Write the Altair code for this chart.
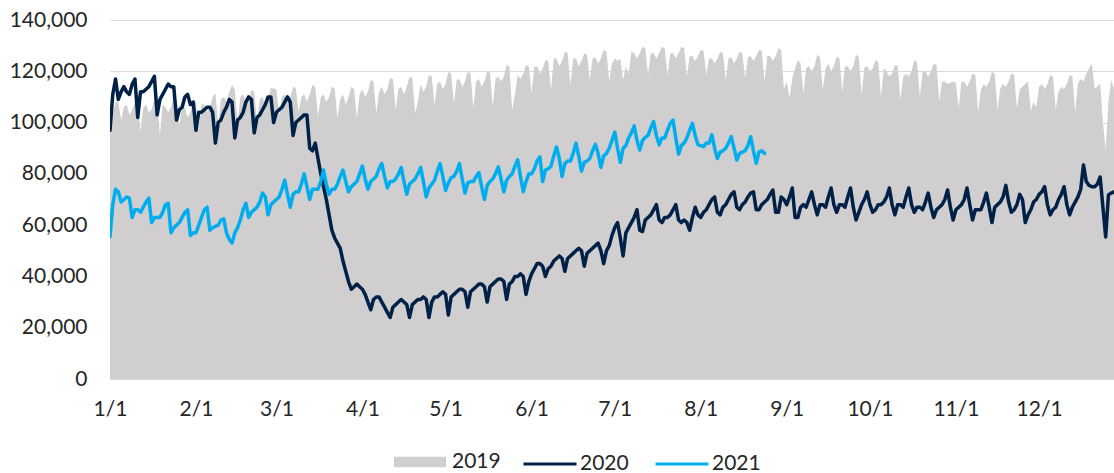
import json

import altair as alt
import pandas as pd

# Daily counts, one list per year, starting on 1 January.
VALUES_2019 = [
    98000, 103000, 108000, 108000, 101000,
    106000, 107000, 103000, 105000, 108000, 108000, 96500,
    106000, 107000, 104000, 105000, 109000, 108000, 95200,
    107000, 106000, 104000, 106000, 110000, 109000, 99000,
    106000, 106000, 102000, 104000, 109000, 108000, 97000,
    107000, 107000, 104000, 106000, 110000, 111400, 99000,
    109000, 110000, 108000, 112000, 114600, 113000, 100000,
    110000, 111000, 108000, 109000, 112700, 112000, 100000,
    109000, 110000, 107000, 109000, 113500, 113000, 103000,
    110000, 111000, 108000, 110000, 114000, 113500, 104200,
    110000, 111000, 108000, 111000, 114700, 114000, 102300,
    110000, 111000, 108000, 110000, 114000, 113500, 101700,
    109000, 111000, 107000, 110000, 114000, 113000, 101700,
    111000, 113000, 110000, 112000, 116600, 116000, 103600,
    112000, 114000, 111000, 113000, 117400, 117000, 104900,
    113000, 114000, 111000, 114000, 117900, 117500, 103600,
    108000, 115000, 112000, 114000, 118600, 118000, 106900,
    115000, 116000, 113000, 115000, 119800, 119000, 107500,
    116600, 117000, 114000, 116000, 119800, 119000, 105600,
    116000, 117000, 114000, 116000, 119800, 119500, 106200,
    117000, 118000, 116000, 118000, 122500, 122000, 104900,
    111000, 118600, 117000, 119000, 122500, 122000, 111400,
    121800, 122000, 119000, 121000, 124400, 124000, 112700,
    125000, 125000, 122000, 124000, 127600, 127000, 114700,
    125000, 125000, 122000, 124000, 127000, 126500, 116600,
    125000, 125500, 123000, 125000, 128300, 127500, 116000,
    123000, 125000, 124000, 125000, 116600, 122000, 119000,
    127600, 127000, 125000, 127000, 129600, 129000, 118600,
    127000, 127000, 125000, 127000, 129600, 129000, 118600,
    127000, 127000, 125000, 127000, 129600, 129000, 117900,
    126000, 126000, 124000, 126000, 128300, 128000, 118600,
    125000, 125000, 123000, 125000, 127600, 127000, 116600,
    125000, 125500, 123000, 125000, 127600, 127000, 117300,
    125500, 126000, 124000, 126000, 128300, 128000, 116000,
    126000, 126000, 124000, 126000, 129000, 128300, 113000,
    116000, 109500, 117300, 121000, 124400, 123000, 111400,
    121200, 122000, 120000, 122000, 126400, 125500, 112700,
    121000, 123000, 120000, 122000, 125700, 125000, 112000,
    121800, 122000, 120000, 122000, 126400, 125500, 110800,
    121500, 122000, 120000, 121000, 124400, 123500, 110100,
    121200, 120000, 118000, 119000, 122500, 122000, 108800,
    117900, 119000, 118000, 120000, 124400, 123500, 110100,
    119800, 120000, 118000, 120000, 123000, 122500, 108200,
    116000, 116000, 115000, 115500, 116000, 115300, 105600,
    116000, 116000, 114000, 116000, 119200, 118500, 104200,
    112700, 115000, 114000, 116000, 119800, 119000, 104900,
    113400, 115000, 114000, 116000, 119200, 118500, 105600,
    113000, 114000, 115000, 116000, 104500, 108000, 106000,
    114000, 115000, 113000, 115000, 118600, 118000, 104900,
    112000, 114000, 113000, 115000, 118600, 118000, 104200,
    115300, 117000, 116000, 119000, 121000, 123000, 113400,
    114000, 115300, 100000, 89300, 108000, 116600, 113000,
]

VALUES_2020 = [
    97000, 111000, 117000, 109000,
    112000, 114000, 112000, 111000, 115000, 117000, 102000,
    112000, 112000, 113000, 114000, 116000, 118000, 103000,
    109000, 111000, 113000, 115000, 114000, 114000, 101000,
    105000, 106000, 110000, 111000, 107000, 108000, 97000,
    104000, 104000, 105000, 106000, 106000, 104000, 92000,
    100000, 101000, 104000, 106000, 109000, 108000, 94000,
    101000, 102000, 104000, 108000, 110000, 109000, 96000,
    102000, 103000, 105000, 107000, 110000, 110000, 100000,
    104000, 105000, 106000, 108000, 110000, 108000, 95000,
    100000, 101000, 102000, 103000, 103000, 90000, 89000,
    92000, 86000, 80000, 75000, 70000, 64000, 58000,
    55000, 53000, 51000, 46000, 42000, 38000, 35000,
    36000, 37000, 36000, 35000, 33000, 30000, 27000,
    31000, 32000, 32000, 30000, 28000, 26000, 24000,
    28000, 29000, 30000, 31000, 30000, 29000, 24000,
    29000, 30000, 31000, 31000, 32000, 31000, 24000,
    30000, 32000, 32000, 33000, 34000, 33000, 25000,
    32000, 33000, 34000, 35000, 35000, 34000, 28000,
    34000, 35000, 36000, 37000, 37000, 36000, 30000,
    36000, 37000, 38000, 39000, 39000, 38000, 31000,
    37000, 38000, 40000, 40000, 41000, 40000, 33000,
    38000, 41000, 43000, 45000, 45000, 44000, 40000,
    43000, 44000, 46000, 47000, 48000, 47000, 42000,
    47000, 48000, 49000, 50000, 51000, 50000, 44000,
    49000, 50000, 51000, 52000, 53000, 50000, 45000,
    50000, 52000, 56000, 59000, 61000, 55000, 48000,
    57000, 59000, 61000, 63000, 66000, 58000, 57500,
    62000, 63000, 64000, 66000, 68000, 62000, 61000,
    63000, 63000, 64000, 66000, 68000, 62000, 61000,
    62000, 61000, 58000, 63000, 67000, 64000, 63000,
    65000, 66000, 68000, 70000, 71000, 65000, 64000,
    67000, 68000, 70000, 72000, 73000, 67000, 66000,
    68000, 69000, 71000, 72500, 73000, 66000, 66000,
    68000, 69000, 70000, 72000, 73700, 65000, 65000,
    71000, 70000, 68000, 71000, 74500, 63000, 63000,
    67000, 68000, 67000, 70000, 73000, 68000, 64000,
    68000, 68000, 67000, 71000, 74500, 68000, 65000,
    68000, 68000, 67000, 71000, 74500, 67000, 62000,
    65000, 68000, 70000, 73000, 68000, 65000, 66000,
    68000, 68000, 69000, 71000, 74500, 68000, 64000,
    68000, 68000, 67000, 71000, 74500, 68000, 65000,
    67000, 67000, 66000, 69000, 72500, 67000, 63000,
    66000, 67000, 68000, 70000, 73700, 67000, 62000,
    66000, 67000, 68000, 70000, 74500, 68000, 62000,
    66000, 66000, 66000, 69000, 72500, 67000, 61000,
    67000, 68000, 69000, 71000, 75500, 69000, 65000,
    66000, 68000, 72000, 70000, 61000, 64000, 66000,
    69000, 70000, 72000, 73000, 75000, 68000, 64000,
    66000, 67000, 70000, 72000, 75000, 68000, 64000,
    67000, 69000, 71000, 74000, 83500, 77000, 75500,
    75000, 75000, 76000, 78800, 67000, 55400, 71800,
    72500, 73000,
]

VALUES_2021 = [
    55500, 68000,
    74000, 73000, 69000, 70000, 71000, 70500, 63000,
    66000, 66000, 65000, 67000, 69000, 70500, 61000,
    63000, 63000, 63000, 65000, 68000, 68500, 57000,
    59000, 60000, 61000, 63000, 65000, 66000, 56000,
    57000, 57000, 60000, 63000, 66000, 67000, 58000,
    59000, 59500, 60000, 62000, 62500, 57000, 54500,
    53000, 57000, 59000, 62000, 66000, 68500, 63000,
    65000, 66000, 67000, 69000, 72500, 71000, 64000,
    68000, 70000, 71000, 74000, 77500, 72000, 67000,
    72000, 73000, 73000, 76000, 80000, 75000, 70000,
    74000, 74000, 74000, 77000, 81500, 76000, 72000,
    74000, 74000, 76000, 79000, 81500, 77000, 73000,
    75000, 76000, 77000, 80000, 83000, 78000, 74000,
    77000, 78000, 79000, 82000, 84000, 79000, 74500,
    77000, 77000, 78000, 80000, 82500, 77000, 72000,
    76000, 77000, 78000, 80000, 82500, 77000, 71000,
    74500, 76000, 77500, 81000, 84000, 79000, 73500,
    76500, 78500, 79000, 81000, 84000, 78000, 72500,
    76500, 77000, 77000, 79000, 80500, 75000, 70000,
    75500, 77000, 78000, 80000, 82700, 78000, 73000,
    77500, 79000, 80000, 83000, 85500, 79000, 73000,
    77000, 80000, 80000, 82000, 85000, 86600, 77000,
    81500, 82000, 83000, 87000, 90500, 86000, 79000,
    84000, 85000, 85000, 88000, 92000, 87000, 81000,
    84500, 85000, 86000, 89000, 91500, 88000, 82500,
    87000, 88000, 90000, 93000, 96300, 90000, 84500,
    90000, 91000, 94000, 96000, 98700, 93000, 89300,
    93000, 94200, 95000, 98000, 100400, 95000, 91300,
    94000, 94000, 97000, 99700, 101000, 94000, 87700,
    91000, 92000, 94000, 97000, 99700, 95000, 91300,
    91000, 90600, 92000, 92000, 95200, 90000, 86000,
    88600, 89000, 90000, 92000, 94500, 90000, 85400,
    88000, 88500, 89000, 91000, 94500, 89000, 84100,
    88600, 89000, 88000,
]

MONTH_STARTS = [0, 31, 60, 91, 121, 152, 182, 213, 244, 274, 305, 335]
MONTH_LABELS = ["1/1", "2/1", "3/1", "4/1", "5/1", "6/1",
                "7/1", "8/1", "9/1", "10/1", "11/1", "12/1"]
Y_TICKS = [0, 20000, 40000, 60000, 80000, 100000, 120000, 140000]

GREY = "#D0CECF"
NAVY = "#002147"
SKY = "#00AEEF"
TEXT = "#262626"
GRID = "#D9D9D9"
FONT = "Lato"
FONT_SIZE = 21


def year_frame(year, values, key):
    """Place each day on a shared month/day axis (days since 1 Jan of a leap year)."""
    dates = pd.date_range(f"{year}-01-01", periods=len(values), freq="D")
    origin = pd.Timestamp(2020, 1, 1)
    pos = [(pd.Timestamp(2020, d.month, d.day) - origin).days for d in dates]
    return pd.DataFrame({"pos": pos, "value": values, key: str(year)})


area_df = year_frame(2019, VALUES_2019, "area_year")
line_df = pd.concat(
    [year_frame(2020, VALUES_2020, "line_year"),
     year_frame(2021, VALUES_2021, "line_year")],
    ignore_index=True,
)

label_expr = (
    f"{json.dumps(MONTH_LABELS)}[indexof({json.dumps(MONTH_STARTS)}, datum.value)]"
)

x_enc = alt.X(
    "pos:Q",
    scale=alt.Scale(domain=[0, 362], nice=False, zero=False),
    axis=alt.Axis(
        values=MONTH_STARTS,
        labelExpr=label_expr,
        title=None,
        grid=False,
        ticks=False,
        domainColor=GRID,
        domainWidth=1,
        labelPadding=19,
        labelFlush=False,
        labelOverlap=False,
    ),
)
y_enc = alt.Y(
    "value:Q",
    scale=alt.Scale(domain=[0, 140000], nice=False),
    axis=alt.Axis(
        values=Y_TICKS,
        format=",.0f",
        title=None,
        domain=False,
        ticks=False,
        gridColor=GRID,
        gridWidth=1,
        labelPadding=23,
    ),
)

area = alt.Chart(area_df).mark_area(clip=True, opacity=1).encode(
    x=x_enc,
    y=y_enc,
    fill=alt.Fill(
        "area_year:N",
        scale=alt.Scale(domain=["2019"], range=[GREY]),
        legend=alt.Legend(
            title=None,
            orient="none",
            legendX=284,
            legendY=416,
            direction="horizontal",
            symbolType="M-1,-0.2L1,-0.2L1,0.2L-1,0.2Z",
            symbolSize=2704,
            symbolStrokeWidth=0,
            symbolOpacity=1,
            labelOffset=6,
            padding=0,
        ),
    ),
)

lines = alt.Chart(line_df).mark_line(
    clip=True, strokeWidth=3.5, strokeJoin="round", strokeCap="round"
).encode(
    x=x_enc,
    y=y_enc,
    stroke=alt.Stroke(
        "line_year:N",
        scale=alt.Scale(domain=["2020", "2021"], range=[NAVY, SKY]),
        legend=alt.Legend(
            title=None,
            orient="none",
            legendX=412,
            legendY=416,
            direction="horizontal",
            symbolType="stroke",
            symbolSize=2809,
            symbolStrokeWidth=3,
            labelOffset=2,
            columnPadding=20,
            padding=0,
        ),
    ),
)

chart = (
    alt.layer(area, lines)
    .resolve_scale(x="shared", y="shared")
    .properties(
        width=1004,
        height=359,
        padding={"left": 110, "top": 20, "right": 0, "bottom": 94},
        autosize=alt.AutoSizeParams(type="none"),
        background="white",
    )
    .configure_view(stroke=None)
    .configure_axis(labelFont=FONT, labelFontSize=FONT_SIZE, labelColor=TEXT)
    .configure_legend(labelFont=FONT, labelFontSize=FONT_SIZE, labelColor=TEXT)
)

chart.save("out.html", embed_options={"renderer": "svg", "actions": False})
